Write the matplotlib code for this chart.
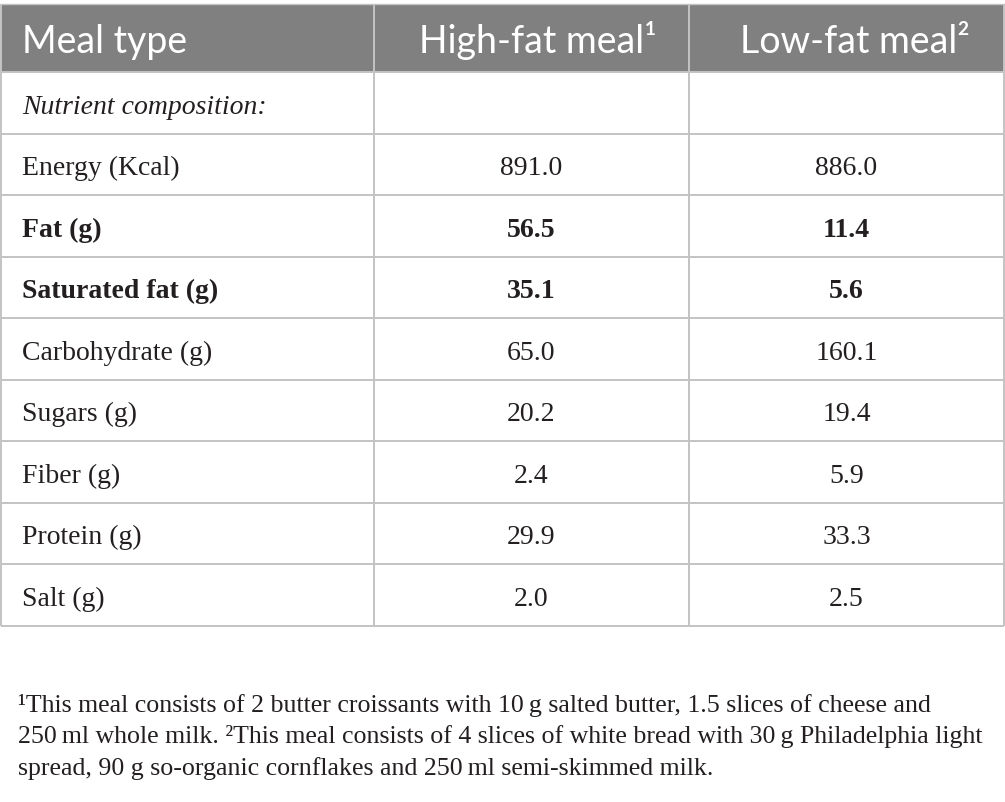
import matplotlib
matplotlib.use('Agg')
import matplotlib.pyplot as plt

# table data
header = ['Meal type', 'High-fat meal\u00b9', 'Low-fat meal\u00b2']
section = 'Nutrient composition:'
nutrients = ['Energy (Kcal)', 'Fat (g)', 'Saturated fat (g)', 'Carbohydrate (g)',
             'Sugars (g)', 'Fiber (g)', 'Protein (g)', 'Salt (g)']
high_fat = ['891.0', '56.5', '35.1', '65.0', '20.2', '2.4', '29.9', '2.0']
low_fat = ['886.0', '11.4', '5.6', '160.1', '19.4', '5.9', '33.3', '2.5']
bold_rows = ['Fat (g)', 'Saturated fat (g)']
footnote = ['\u00b9This meal consists of 2 butter croissants with 10\u2009g salted butter, 1.5 slices of cheese and',
            '250\u2009ml whole milk. \u00b2This meal consists of 4 slices of white bread with 30\u2009g Philadelphia light',
            'spread, 90 g so-organic cornflakes and 250\u2009ml semi-skimmed milk.']

W, H = 1005, 802
fig = plt.figure(figsize=(W / 100, H / 100), dpi=100)
ax = fig.add_axes([0, 0, 1, 1])
ax.set_xlim(0, W)
ax.set_ylim(H, 0)
ax.axis('off')

# layout in pixels
left, right = 1, 1004
col_x = [left, 374, 689, right]
top = 4
head_bot = 72
row_h = 61.5
n_rows = 1 + len(nutrients)
row_edges = [head_bot + i * row_h for i in range(n_rows + 1)]
bottom = row_edges[-1]

grid = '#c3c3c3'
head_col = '#808080'
txt = '#231f20'
serif = ['Liberation Serif', 'DejaVu Serif']
sans = ['Lato', 'DejaVu Sans']
fs = 20

ax.fill_between([left, right], top, head_bot, color=head_col, lw=0)
ax.vlines(col_x, top, bottom, color=grid, lw=1.4)
ax.hlines(row_edges, left, right, color=grid, lw=1.4)
ax.hlines(top, left, right, color=grid, lw=1.0)

hy = 53
ax.text(22, hy, header[0], color='white', fontsize=27, family=sans, va='baseline', ha='left')
ax.text((col_x[1] + col_x[2]) / 2 + 6, hy, header[1], color='white', fontsize=27, family=sans,
        va='baseline', ha='center')
ax.text((col_x[2] + col_x[3]) / 2 + 8, hy, header[2], color='white', fontsize=27, family=sans,
        va='baseline', ha='center')

ax.text(22, (row_edges[0] + row_edges[1]) / 2 + 11, section, color=txt, fontsize=fs, family=serif,
        style='italic', va='baseline', ha='left')

c1 = (col_x[1] + col_x[2]) / 2
c2 = (col_x[2] + col_x[3]) / 2
for i, name in enumerate(nutrients):
    y = (row_edges[i + 1] + row_edges[i + 2]) / 2 + 11
    w = 'bold' if name in bold_rows else 'normal'
    ax.text(22, y, name, color=txt, fontsize=fs, family=serif, weight=w, va='baseline', ha='left')
    ax.text(c1, y, high_fat[i], color=txt, fontsize=fs, family=serif, weight=w, va='baseline', ha='center')
    ax.text(c2, y, low_fat[i], color=txt, fontsize=fs, family=serif, weight=w, va='baseline', ha='center')

for j, line in enumerate(footnote):
    ax.text(18, 712 + j * 31.5, line, color=txt, fontsize=18.6, family=serif, va='baseline', ha='left')

fig.savefig('out.png', dpi=100, facecolor='white')
